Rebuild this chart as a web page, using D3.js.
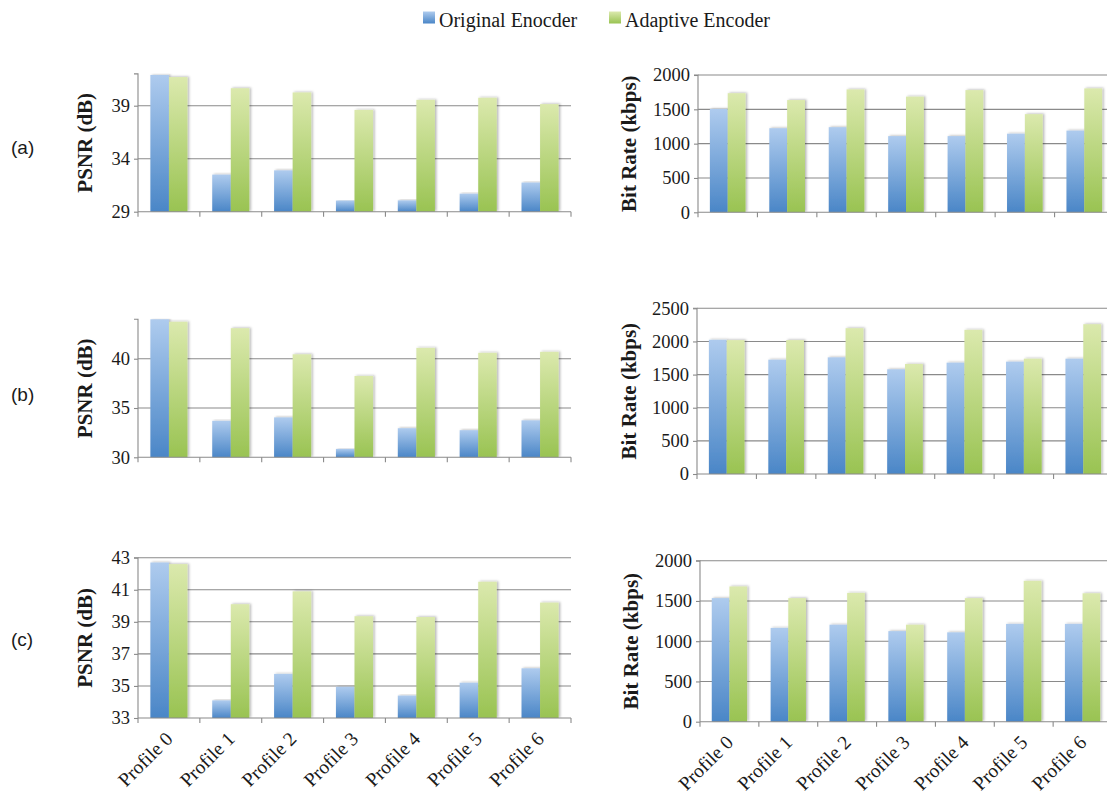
<!DOCTYPE html>
<html>
<head>
<meta charset="utf-8">
<script src="https://cdn.jsdelivr.net/npm/d3@7/dist/d3.min.js"></script>
<style>
  html, body { margin: 0; padding: 0; background: #fff; }
  svg { display: block; }
</style>
</head>
<body>
<svg id="chart" width="1107" height="800"></svg>
<script>
// ---- data ----
const categories = ["Profile 0", "Profile 1", "Profile 2", "Profile 3", "Profile 4", "Profile 5", "Profile 6"];
const seriesNames = ["Original Enocder", "Adaptive Encoder"];

// (a)
const psnrOriginalA = [41.9, 32.5, 32.9, 30.05, 30.07, 30.7, 31.75];
const psnrAdaptiveA = [41.7, 40.65, 40.25, 38.6, 39.55, 39.75, 39.15];
const rateOriginalA = [1505, 1225, 1240, 1110, 1110, 1145, 1190];
const rateAdaptiveA = [1735, 1635, 1790, 1685, 1780, 1430, 1805];
// (b)
const psnrOriginalB = [44.0, 33.7, 34.05, 30.85, 32.95, 32.75, 33.75];
const psnrAdaptiveB = [43.75, 43.1, 40.45, 38.25, 41.1, 40.6, 40.7];
const rateOriginalB = [2025, 1725, 1760, 1580, 1680, 1695, 1740];
const rateAdaptiveB = [2020, 2020, 2200, 1660, 2175, 1740, 2260];
// (c)
const psnrOriginalC = [42.7, 34.1, 35.75, 34.95, 34.4, 35.2, 36.1];
const psnrAdaptiveC = [42.6, 40.1, 40.9, 39.35, 39.3, 41.5, 40.2];
const rateOriginalC = [1535, 1165, 1205, 1125, 1110, 1215, 1215];
const rateAdaptiveC = [1680, 1535, 1600, 1205, 1535, 1750, 1595];

// axis ranges and tick values
const psnrDomainA = [29, 42], psnrTicksA = [29, 34, 39];
const psnrDomainB = [30, 44], psnrTicksB = [30, 35, 40];
const psnrDomainC = [33, 43], psnrTicksC = [33, 35, 37, 39, 41, 43];
const rateDomainA = [0, 2000], rateTicksA = [0, 500, 1000, 1500, 2000];
const rateDomainB = [0, 2500], rateTicksB = [0, 500, 1000, 1500, 2000, 2500];
const rateDomainC = [0, 2000], rateTicksC = [0, 500, 1000, 1500, 2000];

const rowLabels = ["(a)", "(b)", "(c)"];

// ---- layout ----
const serif = '"Liberation Serif", "Times New Roman", serif';
const sans = '"Liberation Sans", Arial, sans-serif';
const textColor = "#1a1a1a";
const axisColor = "#8a8a8a";

const svg = d3.select("#chart");
const defs = svg.append("defs");

function gradient(id, top, bottom) {
  const g = defs.append("linearGradient").attr("id", id)
    .attr("x1", 0).attr("y1", 0).attr("x2", 0).attr("y2", 1);
  g.append("stop").attr("offset", "0%").attr("stop-color", top);
  g.append("stop").attr("offset", "100%").attr("stop-color", bottom);
}
gradient("gradBlue", "#aecbee", "#4a86c7");
gradient("gradGreen", "#dbe9ad", "#99c352");
const fills = ["url(#gradBlue)", "url(#gradGreen)"];

const shadow = defs.append("filter").attr("id", "barShadow")
  .attr("x", "-20%").attr("y", "-5%").attr("width", "150%").attr("height", "110%");
shadow.append("feDropShadow").attr("dx", 1.6).attr("dy", -0.5)
  .attr("stdDeviation", 1.1).attr("flood-color", "#000").attr("flood-opacity", 0.28);

const panels = [
  { x0: 138, x1: 571, y0: 211.7, y1: 73.9, domain: psnrDomainA, ticks: psnrTicksA, data: [psnrOriginalA, psnrAdaptiveA], title: "PSNR (dB)", titleX: 92, cats: false },
  { x0: 698, x1: 1114, y0: 212.3, y1: 75, domain: rateDomainA, ticks: rateTicksA, data: [rateOriginalA, rateAdaptiveA], title: "Bit Rate (kbps)", titleX: 636, cats: false },
  { x0: 138, x1: 571, y0: 457.3, y1: 319.3, domain: psnrDomainB, ticks: psnrTicksB, data: [psnrOriginalB, psnrAdaptiveB], title: "PSNR (dB)", titleX: 92, cats: false },
  { x0: 697, x1: 1113, y0: 474, y1: 308.3, domain: rateDomainB, ticks: rateTicksB, data: [rateOriginalB, rateAdaptiveB], title: "Bit Rate (kbps)", titleX: 636, cats: false },
  { x0: 138, x1: 571, y0: 718, y1: 557.7, domain: psnrDomainC, ticks: psnrTicksC, data: [psnrOriginalC, psnrAdaptiveC], title: "PSNR (dB)", titleX: 92, cats: true },
  { x0: 700, x1: 1112, y0: 721.7, y1: 560.7, domain: rateDomainC, ticks: rateTicksC, data: [rateOriginalC, rateAdaptiveC], title: "Bit Rate (kbps)", titleX: 638, cats: true }
];

panels.forEach((p, idx) => {
  const g = svg.append("g");
  const x = d3.scaleBand().domain(categories).range([p.x0, p.x1]).padding(0);
  const bw = x.bandwidth();
  const xs = d3.scaleBand().domain(seriesNames).range([0.2 * bw, 0.8 * bw]).padding(0);
  const y = d3.scaleLinear().domain(p.domain).range([p.y0, p.y1]);

  const clipId = "clip" + idx;
  defs.append("clipPath").attr("id", clipId).append("rect")
    .attr("x", p.x0 - 5).attr("y", p.y1 - 0.5).attr("width", p.x1 - p.x0 + 10).attr("height", p.y0 - p.y1 + 1);

  // horizontal gridlines (skip the baseline)
  g.selectAll("line.grid").data(p.ticks.filter(t => t !== p.domain[0])).join("line")
    .attr("x1", p.x0).attr("x2", p.x1)
    .attr("y1", d => y(d)).attr("y2", d => y(d))
    .attr("stroke", axisColor).attr("stroke-width", 1.1);

  // bars
  const bars = g.append("g").attr("clip-path", `url(#${clipId})`);
  seriesNames.forEach((s, si) => {
    bars.selectAll(null).data(p.data[si]).join("rect")
      .attr("x", (d, i) => x(categories[i]) + xs(s))
      .attr("width", xs.bandwidth())
      .attr("y", d => y(d))
      .attr("height", d => p.y0 - y(d))
      .attr("fill", fills[si])
      .attr("filter", "url(#barShadow)");
  });

  // y axis
  const yAxis = d3.axisLeft(y).tickValues(p.ticks).tickSize(4).tickPadding(4).tickFormat(d3.format("d"));
  const ya = g.append("g").attr("transform", `translate(${p.x0},0)`).call(yAxis);
  ya.attr("font-size", null).attr("font-family", null);
  ya.select(".domain").attr("stroke", axisColor).attr("stroke-width", 1.1)
    .attr("d", `M-4,${p.y1}H0V${p.y0}`);
  ya.selectAll(".tick line").attr("stroke", axisColor).attr("stroke-width", 1.1);
  ya.selectAll(".tick text")
    .style("font-family", serif).style("font-size", "18.5px").style("fill", textColor);

  // x axis: baseline with ticks at category boundaries
  const xb = g.append("g");
  xb.append("line").attr("x1", p.x0).attr("x2", p.x1).attr("y1", p.y0).attr("y2", p.y0)
    .attr("stroke", axisColor).attr("stroke-width", 1.1);
  const bounds = categories.map(c => x(c)).concat([p.x1]);
  xb.selectAll("line.tk").data(bounds).join("line")
    .attr("x1", d => d).attr("x2", d => d).attr("y1", p.y0).attr("y2", p.y0 + 5)
    .attr("stroke", axisColor).attr("stroke-width", 1.1);

  if (p.cats) {
    xb.selectAll("text").data(categories).join("text")
      .style("font-family", serif).style("font-size", "19.5px").style("fill", textColor)
      .attr("text-anchor", "end")
      .attr("transform", d => `translate(${x(d) + bw / 2 + 5},${p.y0 + 22}) rotate(-45)`)
      .text(d => d);
  }

  // axis title
  g.append("text")
    .style("font-family", serif).style("font-size", "21px").style("font-weight", "bold").style("fill", textColor)
    .attr("text-anchor", "middle")
    .attr("transform", `translate(${p.titleX},${(p.y0 + p.y1) / 2}) rotate(-90)`)
    .text(p.title);
});

// row labels
const rowY = [147, 394, 639];
svg.selectAll("text.row").data(rowLabels).join("text")
  .style("font-family", sans).style("font-size", "19px").style("fill", textColor)
  .attr("x", 11).attr("y", (d, i) => rowY[i]).attr("dy", "0.35em")
  .text(d => d);

// legend
const legend = svg.append("g");
const legendX = [423, 609];
seriesNames.forEach((s, i) => {
  legend.append("rect").attr("x", legendX[i]).attr("y", 11.5).attr("width", 12).attr("height", 12)
    .attr("fill", fills[i]);
  legend.append("text")
    .style("font-family", serif).style("font-size", "20px").style("fill", textColor)
    .attr("x", legendX[i] + 16).attr("y", 27).text(s);
});
</script>
</body>
</html>
